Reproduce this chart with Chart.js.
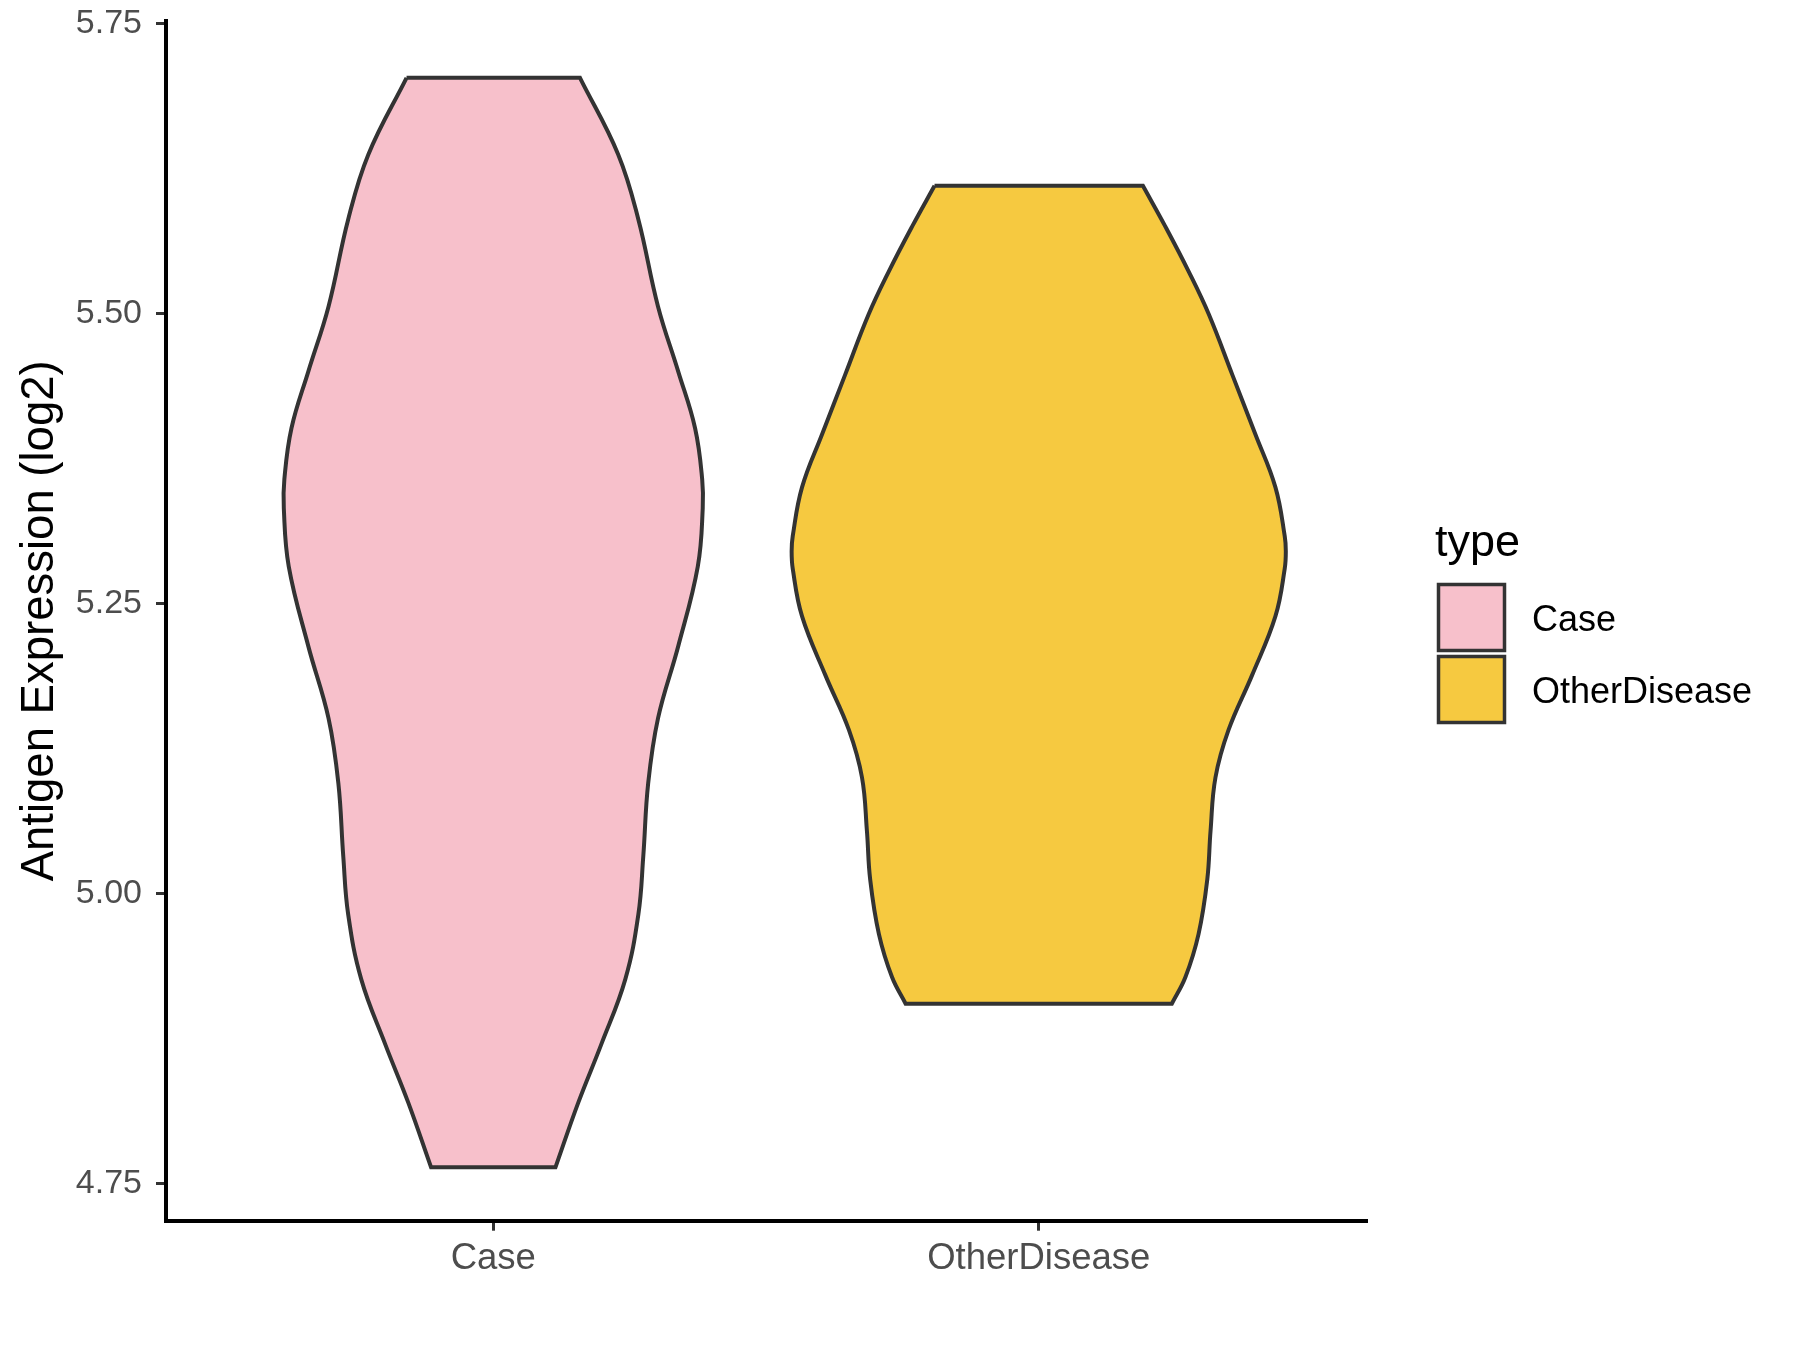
<!DOCTYPE html>
<html>
<head>
<meta charset="utf-8">
<script src="https://cdn.jsdelivr.net/npm/chart.js@4.4.1/dist/chart.umd.min.js"></script>
<style>
  html, body { margin: 0; padding: 0; background: #fff; }
  #wrap { width: 1800px; height: 1350px; }
</style>
</head>
<body>
<div id="wrap"><canvas id="myChart" width="1800" height="1350"></canvas></div>
<script>
// categories and legend
const categories = ["Case", "OtherDisease"];
const fillColors = ["#F7C0CB", "#F6C940"];

// violin outlines: level (log2 expression) and half width (in category units), top to bottom
const caseLevels = [5.703, 5.637, 5.581, 5.506, 5.450, 5.401, 5.357, 5.332, 5.282, 5.213, 5.151, 5.095, 5.032, 4.982, 4.926, 4.870, 4.820, 4.764];
const caseWidths = [0.159, 0.229, 0.266, 0.302, 0.339, 0.370, 0.383, 0.384, 0.375, 0.339, 0.302, 0.284, 0.275, 0.266, 0.242, 0.198, 0.156, 0.114];

const otherLevels = [5.610, 5.575, 5.536, 5.499, 5.447, 5.396, 5.350, 5.308, 5.295, 5.280, 5.239, 5.188, 5.141, 5.100, 5.054, 5.012, 4.965, 4.928, 4.905];
const otherWidths = [0.191, 0.232, 0.275, 0.312, 0.355, 0.397, 0.434, 0.451, 0.453, 0.451, 0.434, 0.391, 0.348, 0.324, 0.315, 0.309, 0.293, 0.269, 0.244];

// axis
const yTicks = [4.75, 5.00, 5.25, 5.50, 5.75];
const yMin = 4.718, yMax = 5.752;

// outline goes down the left side, across the bottom, up the right side and back across the top.
// corner points are doubled so the flat ends stay straight with the spline
function violinPoints(center, levels, widths) {
  const n = levels.length;
  const left = levels.map((y, i) => ({ x: center - widths[i], y: y }));
  const right = levels.map((y, i) => ({ x: center + widths[i], y: y })).reverse();
  const pts = [];
  pts.push({ ...left[0] }, { ...left[0] });
  for (let i = 1; i < n - 1; i++) pts.push(left[i]);
  pts.push({ ...left[n - 1] }, { ...left[n - 1] });
  pts.push({ ...right[0] }, { ...right[0] });
  for (let i = 1; i < n - 1; i++) pts.push(right[i]);
  pts.push({ ...right[n - 1] }, { ...right[n - 1] });
  pts.push({ ...left[0] });
  return pts;
}

const violins = [
  violinPoints(1, caseLevels, caseWidths),
  violinPoints(2, otherLevels, otherWidths)
];

// legend on the right, drawn next to the plot like ggplot does
const legendPlugin = {
  id: "typeLegend",
  afterDraw(chart) {
    const ctx = chart.ctx;
    ctx.save();
    ctx.fillStyle = "#000";
    ctx.font = "45px 'Liberation Sans', Arial, sans-serif";
    ctx.textAlign = "left";
    ctx.textBaseline = "alphabetic";
    ctx.fillText("type", 1435, 556);
    ctx.font = "36px 'Liberation Sans', Arial, sans-serif";
    categories.forEach((name, i) => {
      const top = 584.5 + i * 72;
      ctx.fillStyle = fillColors[i];
      ctx.fillRect(1438.5, top, 66, 66);
      ctx.lineWidth = 3.5;
      ctx.strokeStyle = "#333333";
      ctx.strokeRect(1438.5, top, 66, 66);
      ctx.fillStyle = "#000";
      ctx.fillText(name, 1532, top + 46);
    });
    ctx.restore();
  }
};

Chart.defaults.font.family = "'Liberation Sans', Arial, sans-serif";

var ctx = document.getElementById("myChart").getContext("2d");
var chart = new Chart(ctx, {
  type: "line",
  data: {
    datasets: categories.map((name, i) => ({
      label: name,
      data: violins[i],
      backgroundColor: fillColors[i],
      borderColor: "#333333",
      borderWidth: 4,
      fill: "shape",
      tension: 0.4,
      pointRadius: 0,
      pointHoverRadius: 0,
      pointHitRadius: 0
    }))
  },
  plugins: [legendPlugin],
  options: {
    responsive: false,
    animation: false,
    devicePixelRatio: 1,
    layout: { padding: { top: 21, right: 434, bottom: 0, left: 0 } },
    plugins: {
      legend: { display: false },
      tooltip: { enabled: false }
    },
    scales: {
      x: {
        type: "linear",
        min: 0.4,
        max: 2.6,
        afterBuildTicks: (scale) => {
          scale.ticks = categories.map((c, i) => ({ value: i + 1 }));
        },
        afterFit: (scale) => {
          scale.height = 129.3;
          scale.paddingLeft = 0;
          scale.paddingRight = 0;
        },
        ticks: {
          callback: (v) => categories[Math.round(v) - 1],
          font: { size: 36.5 },
          color: "#4D4D4D",
          padding: 6,
          maxRotation: 0,
          autoSkip: false
        },
        grid: { display: true, drawOnChartArea: false, drawTicks: true, tickLength: 10, color: "#333333", lineWidth: 3 },
        border: { display: true, color: "#000000", width: 4 }
      },
      y: {
        type: "linear",
        min: yMin,
        max: yMax,
        afterBuildTicks: (scale) => {
          scale.ticks = yTicks.map((v) => ({ value: v }));
        },
        afterFit: (scale) => {
          scale.width = 166;
          scale.paddingTop = 0;
          scale.paddingBottom = 0;
        },
        ticks: {
          callback: (v) => Number(v).toFixed(2),
          font: { size: 34 },
          color: "#4D4D4D",
          padding: 14
        },
        grid: { display: true, drawOnChartArea: false, drawTicks: true, tickLength: 10, color: "#333333", lineWidth: 3 },
        border: { display: true, color: "#000000", width: 4 },
        title: {
          display: true,
          text: "Antigen Expression (log2)",
          font: { size: 45.5 },
          color: "#000000",
          padding: { top: 13, bottom: 0 }
        }
      }
    }
  }
});
</script>
</body>
</html>
